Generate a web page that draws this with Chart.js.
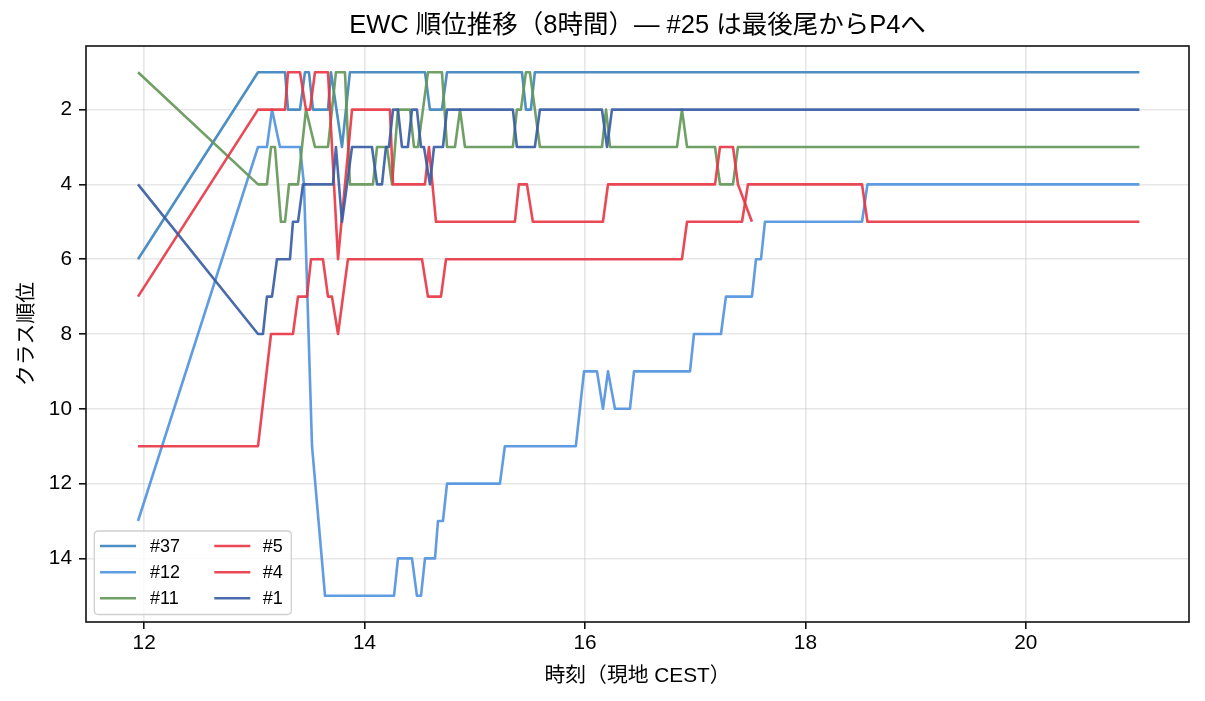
<!DOCTYPE html>
<html><head><meta charset="utf-8">
<script src="https://cdn.jsdelivr.net/npm/chart.js@4.4.1/dist/chart.umd.min.js"></script>
<style>html,body{margin:0;padding:0;background:#fff;}canvas{display:block;}</style>
</head><body>
<canvas id="c" width="1205" height="701"></canvas>
<script>
const TITLE = 'EWC 順位推移（8時間）— #25 は最後尾からP4へ';
const X_LABEL = '時刻（現地 CEST）';
const Y_LABEL = 'クラス順位';
const seriesLabels = ['#37', '#12', '#11', '#5', '#4', '#1'];
const xTicks = [12, 14, 16, 18, 20];
const yTicks = [2, 4, 6, 8, 10, 12, 14];

const t37 = [11.944,13.033,13.278,13.305,13.414,13.459,13.495,13.532,13.668,13.695,13.795,13.867,14.548,14.593,14.702,14.748,15.428,15.464,15.509,15.545,21.031];
const r37 = [6,1,1,2,2,1,1,2,2,1,3,1,1,2,2,1,1,2,2,1,1];

const t12 = [11.944,13.033,13.114,13.160,13.232,13.414,13.450,13.523,13.641,14.267,14.303,14.430,14.475,14.512,14.548,14.639,14.666,14.711,14.748,15.228,15.273,15.917,15.991,16.109,16.163,16.209,16.272,16.408,16.445,16.953,16.989,17.234,17.279,17.515,17.552,17.597,17.633,18.514,18.563,21.031];
const r12 = [13,3,3,2,3,3,4,11,15,15,14,14,15,15,14,14,13,13,12,12,11,11,9,9,10,9,10,10,9,9,8,8,7,7,6,6,5,5,4,4];

const t11 = [11.944,13.033,13.114,13.151,13.187,13.241,13.278,13.314,13.396,13.468,13.550,13.668,13.740,13.822,13.867,14.076,14.113,14.203,14.249,14.303,14.412,14.448,14.484,14.575,14.702,14.748,14.820,14.866,14.911,15.346,15.382,15.419,15.464,15.500,15.591,16.154,16.191,16.227,16.835,16.880,16.926,17.180,17.225,17.343,17.388,21.031];
const r11 = [1,4,4,3,3,5,5,4,4,2,3,3,1,1,4,4,3,3,4,2,2,3,3,1,1,3,3,2,3,3,2,2,1,1,3,3,2,3,3,2,3,3,4,4,3,3];

const t5 = [11.944,13.033,13.278,13.305,13.414,13.468,13.505,13.550,13.668,13.759,13.886,14.230,14.258,14.548,14.584,14.648,15.364,15.400,15.473,15.527,16.163,16.209,17.180,17.225,17.343,17.388,17.515];
const r5 = [7,2,2,1,1,2,2,1,1,6,2,2,4,4,3,5,5,4,4,5,5,4,4,3,3,4,5];

const t4 = [11.944,13.033,13.151,13.350,13.396,13.477,13.514,13.622,13.668,13.704,13.759,13.849,14.521,14.575,14.693,14.739,16.880,16.926,17.425,17.479,18.514,18.563,21.031];
const r4 = [11,11,8,8,7,7,6,6,7,7,8,6,6,7,7,6,6,5,5,4,4,5,5];

const t1 = [11.944,13.033,13.078,13.114,13.160,13.205,13.323,13.350,13.396,13.441,13.713,13.740,13.795,13.886,14.067,14.113,14.158,14.194,14.221,14.258,14.303,14.339,14.393,14.430,14.475,14.512,14.539,14.593,14.630,14.711,14.748,15.346,15.382,15.545,15.591,16.154,16.200,16.245,21.031];
const r1 = [4,8,8,7,7,6,6,5,5,4,4,3,5,3,3,4,4,3,3,2,2,3,3,2,2,3,3,4,3,3,2,2,3,3,2,2,3,2,2];

const seriesTimes = [t37, t12, t11, t5, t4, t1];
const seriesRanks = [r37, r12, r11, r5, r4, r1];
const seriesColors = ['rgba(62,132,190,0.92)','rgba(82,148,222,0.92)','rgba(100,152,88,0.92)','rgba(232,52,66,0.9)','rgba(232,52,66,0.9)','rgba(58,94,164,0.92)'];

const FONT = '"Liberation Sans", "Noto Sans CJK JP", sans-serif';
Chart.defaults.font.family = FONT;
Chart.defaults.color = '#000';

const datasets = seriesLabels.map((lab, i) => ({
  label: lab,
  data: seriesTimes[i].map((t, j) => ({x: t, y: seriesRanks[i][j]})),
  borderColor: seriesColors[i],
  backgroundColor: seriesColors[i],
  borderWidth: 2.6,
  pointRadius: 0,
  tension: 0,
  fill: false,
  borderJoinStyle: 'round',
  order: seriesLabels.length - i
}));

const framePlugin = {
  id: 'frameAndLegend',
  afterDraw(chart) {
    const ctx = chart.ctx, a = chart.chartArea;
    ctx.save();
    // title centred over the plot area
    ctx.font = '25.5px ' + FONT;
    ctx.fillStyle = '#000';
    ctx.textAlign = 'center';
    ctx.textBaseline = 'middle';
    ctx.fillText(TITLE, (a.left + a.right) / 2, 26);
    // frame
    ctx.strokeStyle = '#111';
    ctx.lineWidth = 1.6;
    ctx.strokeRect(a.left, a.top, a.right - a.left, a.bottom - a.top);
    // legend
    const x0 = a.left + 8.3, y0 = a.bottom - 91, w = 197, h = 83.5, rad = 4;
    ctx.beginPath();
    ctx.moveTo(x0 + rad, y0);
    ctx.lineTo(x0 + w - rad, y0); ctx.quadraticCurveTo(x0 + w, y0, x0 + w, y0 + rad);
    ctx.lineTo(x0 + w, y0 + h - rad); ctx.quadraticCurveTo(x0 + w, y0 + h, x0 + w - rad, y0 + h);
    ctx.lineTo(x0 + rad, y0 + h); ctx.quadraticCurveTo(x0, y0 + h, x0, y0 + h - rad);
    ctx.lineTo(x0, y0 + rad); ctx.quadraticCurveTo(x0, y0, x0 + rad, y0);
    ctx.closePath();
    ctx.fillStyle = 'rgba(255,255,255,0.8)';
    ctx.fill();
    ctx.strokeStyle = '#d0d0d0';
    ctx.lineWidth = 1.3;
    ctx.stroke();
    const rows = [15, 41.3, 67.3];
    const cols = [{hx: 5.7, tx: 55.7}, {hx: 120, tx: 168.5}];
    ctx.font = '18px ' + FONT;
    ctx.textBaseline = 'middle';
    ctx.textAlign = 'left';
    chart.data.datasets.forEach((ds, i) => {
      const c = cols[Math.floor(i / 3)], ry = y0 + rows[i % 3];
      ctx.strokeStyle = ds.borderColor;
      ctx.lineWidth = 2.6;
      ctx.beginPath();
      ctx.moveTo(x0 + c.hx, ry);
      ctx.lineTo(x0 + c.hx + 36, ry);
      ctx.stroke();
      ctx.fillStyle = '#000';
      ctx.fillText(ds.label, x0 + c.tx, ry + 1);
    });
    ctx.restore();
  }
};

new Chart(document.getElementById('c'), {
  type: 'line',
  data: {datasets},
  plugins: [framePlugin],
  options: {
    responsive: false,
    animation: false,
    devicePixelRatio: 1,
    layout: {padding: {top: 46, right: 16, bottom: 0, left: 0}},
    plugins: {
      legend: {display: false},
      tooltip: {enabled: false},
      title: {display: false}
    },
    scales: {
      x: {
        type: 'linear', min: 11.472, max: 21.481,
        afterBuildTicks: s => { s.ticks = xTicks.map(v => ({value: v})); },
        afterFit: s => { s.height = 79; },
        ticks: {color: '#000', font: {size: 20.8}, padding: 2, maxRotation: 0, autoSkip: false, callback: v => String(v)},
        grid: {color: 'rgba(176,176,176,0.3)', lineWidth: 1.6, drawTicks: true, tickLength: 7, tickColor: '#111', tickWidth: 1.6},
        border: {display: false},
        title: {display: true, text: X_LABEL, color: '#000', font: {size: 20.8}, padding: {top: 0, bottom: 12.5}}
      },
      y: {
        type: 'linear', reverse: true, min: 0.3, max: 15.7,
        afterBuildTicks: s => { s.ticks = yTicks.map(v => ({value: v})); },
        afterFit: s => { s.width = 86; },
        ticks: {color: '#000', font: {size: 20.8}, padding: 7, autoSkip: false, callback: v => String(v)},
        grid: {color: 'rgba(176,176,176,0.3)', lineWidth: 1.6, drawTicks: true, tickLength: 7, tickColor: '#111', tickWidth: 1.6},
        border: {display: false},
        title: {display: true, text: Y_LABEL, color: '#000', font: {size: 20.8}, padding: {top: 14.5, bottom: 0}}
      }
    }
  }
});
</script>
</body></html>
